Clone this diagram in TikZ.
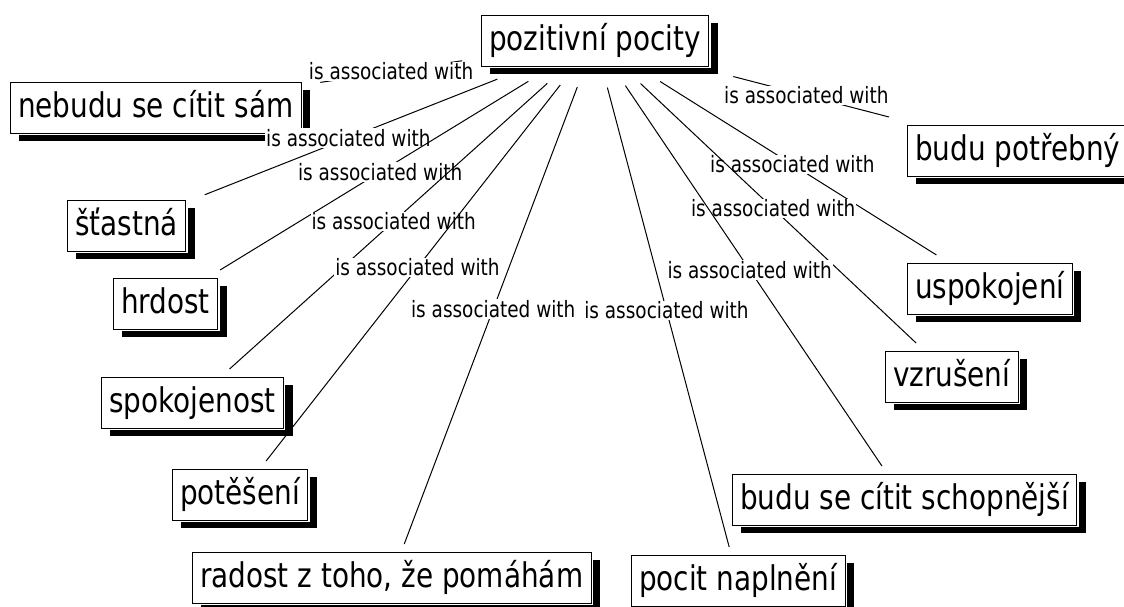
\documentclass[tikz,border=0pt]{standalone}
\usepackage{fontspec}
\usetikzlibrary{shadows}
\newfontfamily\boxfont{DejaVu Sans}[FakeStretch=0.82]

\tikzset{
  feeling/.style={draw, line width=1pt, fill=white, anchor=north west,
    inner xsep=8pt, inner ysep=0pt, minimum height=51pt,
    text height=27pt, text depth=8pt,
    outer xsep=19pt, outer ysep=8pt, xshift=-19pt, yshift=8pt,
    drop shadow={shadow xshift=9pt, shadow yshift=-8pt, fill=black, opacity=1},
    preaction={draw=white, line width=3.5pt},
    font=\boxfont\fontsize{34}{40}\selectfont},
  assoc/.style={line width=1pt},
  rel/.style={fill=white, inner sep=1pt, font=\boxfont\fontsize{22.5}{26}\selectfont}
}

\begin{document}
\begin{tikzpicture}[x=1pt, y=-1pt]
  \useasboundingbox (0,0) rectangle (1124,606);
  % centre node
  \node[feeling] (pozitivni) at (481,15) {pozitivní pocity};
  % left side
  \node[feeling] (sam) at (10,82) {nebudu se cítit sám};
  \node[feeling] (stastna) at (67,200) {šťastná};
  \node[feeling] (hrdost) at (113,278) {hrdost};
  \node[feeling] (spokojenost) at (101,377) {spokojenost};
  \node[feeling] (poteseni) at (172,469) {potěšení};
  \node[feeling] (radost) at (192,552) {radost z toho, že pomáhám};
  % right side
  \node[feeling] (potrebny) at (907,125) {budu potřebný};
  \node[feeling] (uspokojeni) at (907,263) {uspokojení};
  \node[feeling] (vzruseni) at (885,351) {vzrušení};
  \node[feeling] (schopnejsi) at (732,474) {budu se cítit schopnější};
  \node[feeling] (naplneni) at (631,555) {pocit naplnění};

  % outer edges first, so inner lines run over outer labels
  % (\s clears the shadow under the centre box)
  \foreach \t/\p/\s in {sam/0.5/0, stastna/0.53/14, hrdost/0.5/14,
                        spokojenost/0.5/14, poteseni/0.5/14, radost/0.5/14,
                        potrebny/0.5/10, uspokojeni/0.5/14, vzruseni/0.5/14,
                        schopnejsi/0.5/14, naplneni/0.5/14}
    \draw[assoc, shorten <=\s pt] (pozitivni) -- (\t)
      node[pos=\p, rel] {is associated with};
\end{tikzpicture}
\end{document}
